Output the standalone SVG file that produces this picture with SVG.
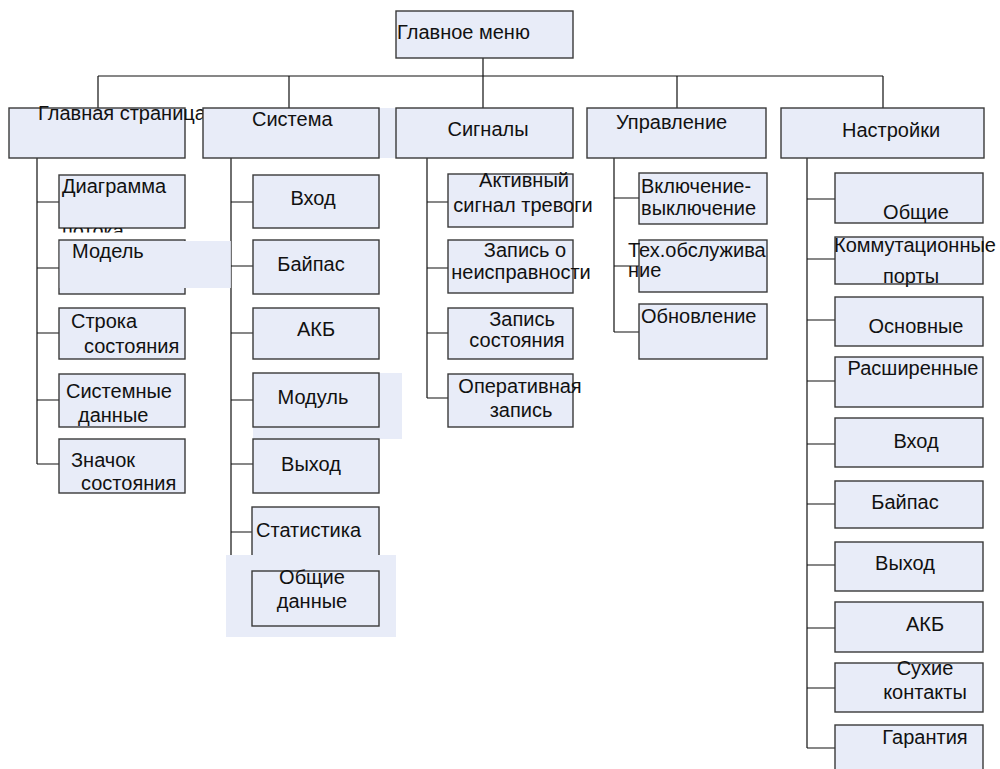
<svg xmlns="http://www.w3.org/2000/svg" width="1000" height="769" viewBox="0 0 1000 769">
<style>
.box{fill:#e8ecf8;stroke:#3a3a3a;stroke-width:1.4}
.hl{fill:#e8ecf8;stroke:none}
.t{font-family:"Liberation Sans",Arial,sans-serif;font-size:20px;fill:#111}
.m{text-anchor:middle}
#connectors path{fill:none;stroke:#111;stroke-width:1.2}
</style>
<defs>
<clipPath id="clipPotoka"><rect x="50" y="228" width="150" height="4.5"/></clipPath>
</defs>
<rect width="1000" height="769" fill="#fff"/>

<!-- background highlights behind boxes -->
<rect class="hl" x="203" y="108" width="193" height="50"/>
<rect class="hl" x="253" y="373" width="149" height="66"/>

<g id="connectors">
<path d="M483 58V76M98 76H883M98 76V108M289 76V108M483 76V108M677 76V108M883 76V108"/>
<path d="M37 158V464M37 202H59M37 268H59M37 333H59M37 400H59M37 464H59"/>
<path d="M231 158V599M231 202H253M231 266H253M231 333H253M231 400H253M231 464H253M231 532H253M231 599H252"/>
<path d="M427 158V398M427 202H448M427 268H448M427 333H448M427 398H448"/>
<path d="M614 158V332M614 198H639M614 266H639M614 332H639"/>
<path d="M807 158V748M807 199H835M807 259H835M807 320H835M807 381H835M807 444H835M807 504H835M807 565H835M807 628H835M807 688H835M807 748H835"/>
</g>

<g id="n-main"><rect class="box" x="396" y="11" width="177" height="47"/><text class="t" x="397" y="39">Главное меню</text></g>

<g id="n-home"><rect class="box" x="9" y="108" width="176" height="50"/><text class="t" x="38" y="120">Главная страница</text></g>
<g id="n-system"><rect class="box" x="203" y="108" width="176" height="50"/><text class="t" x="252" y="126">Система</text></g>
<g id="n-signals"><rect class="box" x="396" y="108" width="177" height="50"/><text class="t m" x="488" y="136">Сигналы</text></g>
<g id="n-control"><rect class="box" x="587" y="108" width="179" height="50"/><text class="t" x="616" y="129">Управление</text></g>
<g id="n-settings"><rect class="box" x="781" y="108" width="203" height="50"/><text class="t" x="842" y="137">Настройки</text></g>

<!-- column 1 -->
<g id="n-flow"><rect class="box" x="59" y="175" width="126" height="53"/><text class="t" x="62" y="193">Диаграмма</text><text class="t" x="62" y="238" clip-path="url(#clipPotoka)">потока</text></g>
<g id="n-model"><rect class="box" x="59" y="240" width="126" height="54"/><rect class="hl" x="59.8" y="241" width="171" height="47"/><text class="t" x="72" y="258">Модель</text></g>
<g id="n-statusbar"><rect class="box" x="59" y="308" width="126" height="51"/><text class="t" x="71" y="328">Строка</text><text class="t" x="84" y="353">состояния</text></g>
<g id="n-sysdata"><rect class="box" x="59" y="374" width="126" height="53"/><text class="t" x="66" y="398">Системные</text><text class="t" x="78" y="422">данные</text></g>
<g id="n-icon"><rect class="box" x="59" y="439" width="126" height="54"/><text class="t" x="71" y="467">Значок</text><text class="t" x="81" y="490">состояния</text></g>

<!-- column 2 -->
<g id="n-s-input"><rect class="box" x="253" y="175" width="126" height="53"/><text class="t m" x="313" y="205">Вход</text></g>
<g id="n-s-bypass"><rect class="box" x="253" y="240" width="126" height="54"/><text class="t m" x="311" y="271">Байпас</text></g>
<g id="n-s-akb"><rect class="box" x="253" y="308" width="126" height="51"/><text class="t m" x="316" y="336">АКБ</text></g>
<g id="n-s-module"><rect class="box" x="253" y="373" width="126" height="54"/><text class="t m" x="313" y="404">Модуль</text></g>
<g id="n-s-output"><rect class="box" x="253" y="439" width="126" height="54"/><text class="t m" x="311" y="471">Выход</text></g>
<g id="n-s-stats"><rect class="box" x="252" y="507" width="127" height="60"/><text class="t" x="256" y="537">Статистика</text></g>
<rect class="hl" x="226" y="555" width="170" height="82"/>
<g id="n-s-general"><rect class="box" x="252" y="571" width="127" height="55"/><text class="t m" x="312" y="584">Общие</text><text class="t m" x="312" y="608">данные</text></g>

<!-- column 3 -->
<g id="n-active"><rect class="box" x="448" y="174" width="125" height="53"/><text class="t m" x="524" y="187">Активный</text><text class="t m" x="523" y="212">сигнал тревоги</text></g>
<g id="n-fault"><rect class="box" x="448" y="240" width="125" height="53"/><text class="t m" x="525" y="257">Запись о</text><text class="t m" x="521" y="279">неисправности</text></g>
<g id="n-statusrec"><rect class="box" x="448" y="308" width="125" height="51"/><text class="t m" x="522" y="326">Запись</text><text class="t m" x="517" y="347">состояния</text></g>
<g id="n-oper"><rect class="box" x="448" y="374" width="125" height="53"/><text class="t m" x="520" y="393">Оперативная</text><text class="t m" x="521" y="417">запись</text></g>

<!-- column 4 -->
<g id="n-onoff"><rect class="box" x="639" y="173" width="128" height="51"/><text class="t" x="641" y="193">Включение-</text><text class="t" x="641" y="215">выключение</text></g>
<g id="n-service"><rect class="box" x="639" y="240" width="128" height="52"/><text class="t" x="628" y="257">Тех.обслужива</text><text class="t" x="628" y="277">ние</text></g>
<g id="n-update"><rect class="box" x="639" y="304" width="128" height="55"/><text class="t" x="641" y="323">Обновление</text></g>

<!-- column 5 -->
<g id="n-c-general"><rect class="box" x="835" y="173" width="148" height="50"/><text class="t m" x="916" y="219">Общие</text></g>
<g id="n-c-ports"><rect class="box" x="835" y="237" width="148" height="47"/><text class="t m" x="915" y="252">Коммутационные</text><text class="t m" x="911" y="283">порты</text></g>
<g id="n-c-basic"><rect class="box" x="835" y="297" width="148" height="49"/><text class="t m" x="916" y="333">Основные</text></g>
<g id="n-c-ext"><rect class="box" x="835" y="357" width="148" height="50"/><text class="t m" x="913" y="375">Расширенные</text></g>
<g id="n-c-input"><rect class="box" x="835" y="418" width="148" height="49"/><text class="t m" x="916" y="448">Вход</text></g>
<g id="n-c-bypass"><rect class="box" x="835" y="481" width="148" height="47"/><text class="t m" x="905" y="509">Байпас</text></g>
<g id="n-c-output"><rect class="box" x="835" y="542" width="148" height="49"/><text class="t m" x="905" y="570">Выход</text></g>
<g id="n-c-akb"><rect class="box" x="835" y="602" width="148" height="50"/><text class="t m" x="925" y="631">АКБ</text></g>
<g id="n-c-dry"><rect class="box" x="835" y="663" width="148" height="49"/><text class="t m" x="925" y="675">Сухие</text><text class="t m" x="925" y="699">контакты</text></g>
<g id="n-c-warranty"><rect class="box" x="835" y="725" width="148" height="60"/><text class="t m" x="925" y="744">Гарантия</text></g>
</svg>
